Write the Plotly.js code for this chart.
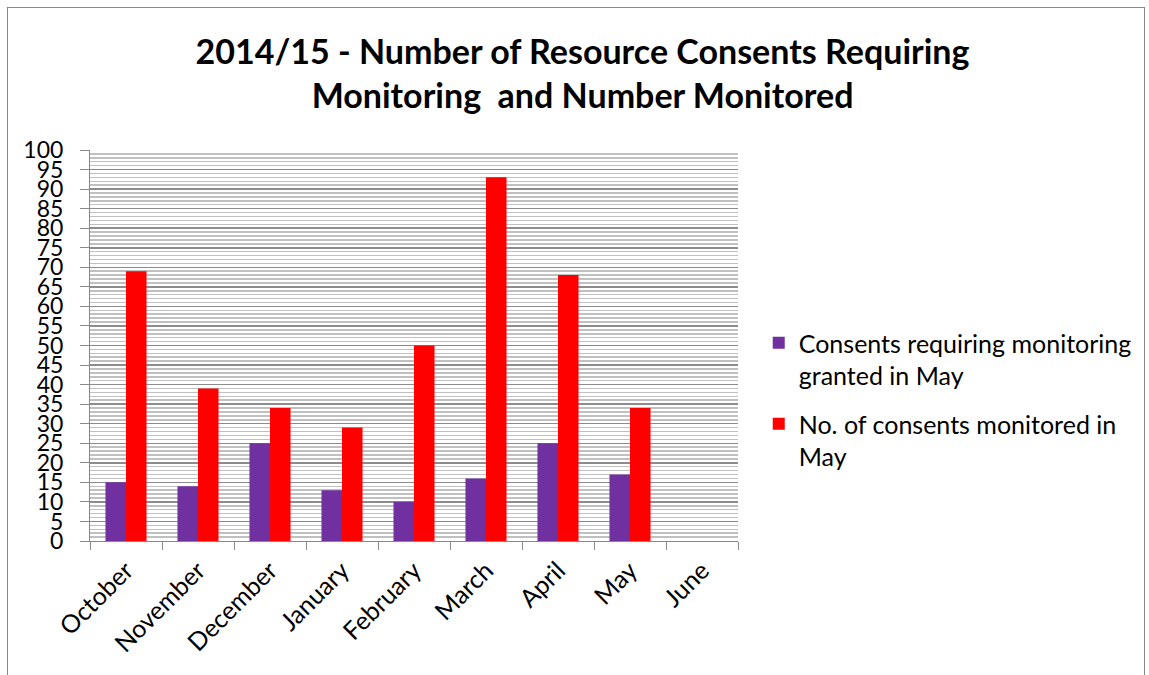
<!DOCTYPE html>
<html><head><meta charset="utf-8">
<script src="https://cdn.plot.ly/plotly-3.0.1.min.js"></script>
<style>
html,body{margin:0;padding:0;background:#fff;}
#frame{position:absolute;left:7px;top:7px;width:1138px;height:670px;border:1px solid #888;box-sizing:border-box;}
#chart{position:absolute;left:0;top:0;width:1149px;height:675px;}
</style></head>
<body>
<div id="frame"></div>
<div id="chart"></div>
<script>
const months = ["October","November","December","January","February","March","April","May","June"];
const granted = [15,14,25,13,10,16,25,17,null];
const monitored = [69,39,34,29,50,93,68,34,null];
const seriesNames = ["Consents requiring monitoring<br>granted in May","No. of consents monitored in<br>May"];
const yTickVals = [0,5,10,15,20,25,30,35,40,45,50,55,60,65,70,75,80,85,90,95,100];

const FONT = "Lato, 'Open Sans', sans-serif";
const data = [
  {type:"bar", x:months, y:granted, name:seriesNames[0], legendgroup:"g1", marker:{color:"#7030A0"}},
  {type:"bar", x:months, y:monitored, name:seriesNames[1], legendgroup:"g2", marker:{color:"#FF0000"}}
];
const layout = {
  width:1149, height:675,
  paper_bgcolor:"rgba(0,0,0,0)", plot_bgcolor:"#fff",
  margin:{l:90, r:411, t:150, b:134},
  font:{family:FONT, color:"#000"},
  title:{text:"<b>2014/15 - Number of Resource Consents Requiring<br>Monitoring  and Number Monitored</b>",
    font:{size:34, family:FONT, color:"#000"}, xref:"container", x:0.507, xanchor:"center", yref:"container", y:0.905, yanchor:"top"},
  barmode:"group", bargap:0.43, bargroupgap:0,
  xaxis:{type:"category", tickson:"boundaries", ticks:"outside", ticklen:8, tickcolor:"#888",
    showline:true, linecolor:"#888", linewidth:1, showgrid:false, tickangle:-45,
    tickfont:{size:25, family:FONT}, ticklabelstandoff:4, fixedrange:true},
  yaxis:{range:[0,100], tickvals:yTickVals, ticktext:yTickVals.map(String), ticks:"outside", ticklen:9, tickcolor:"#888",
    showline:true, linecolor:"#888", linewidth:1, showgrid:true, gridcolor:"#8c8c8c", gridwidth:1.5,
    zeroline:false, tickfont:{size:23, family:FONT}, ticklabelstandoff:12,
    minor:{dtick:1, tick0:0, showgrid:true, gridcolor:"#c0c0c0", gridwidth:1.5, ticks:""}, fixedrange:true},
  legend:{x:1.032, xanchor:"left", y:0.565, yanchor:"top", valign:"top", font:{size:25, family:FONT},
    tracegroupgap:13, bgcolor:"rgba(0,0,0,0)"},
  showlegend:true
};
Plotly.newPlot("chart", data, layout, {displayModeBar:false, staticPlot:true});
</script>
</body></html>
